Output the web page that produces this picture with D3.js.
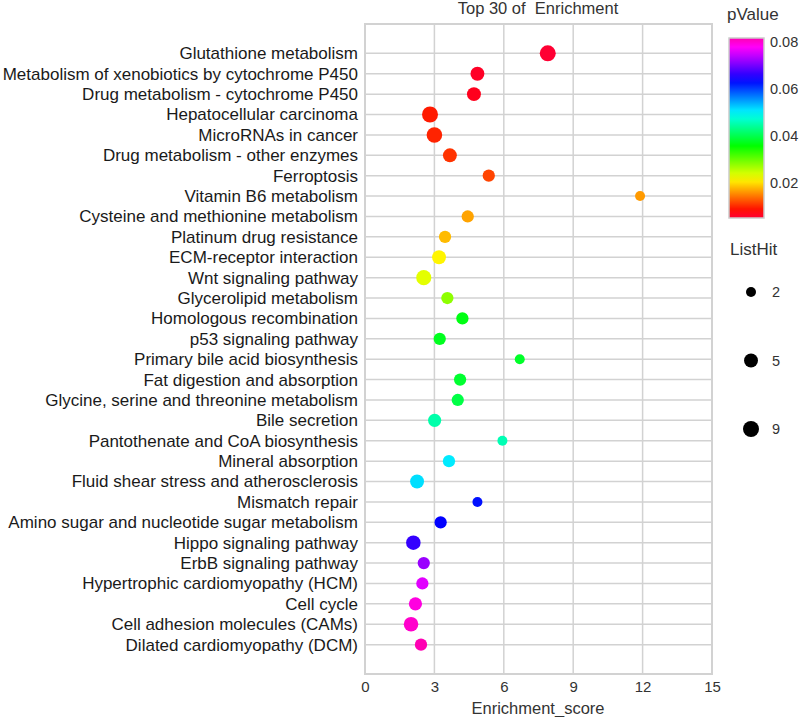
<!DOCTYPE html>
<html>
<head>
<meta charset="utf-8">
<script src="https://cdn.jsdelivr.net/npm/d3@7"></script>
<style>
html,body{margin:0;padding:0;background:#fff;}
text{font-family:"Liberation Sans",Arial,sans-serif;}
</style>
</head>
<body>
<svg id="chart" width="800" height="717"></svg>
<script>
const pathways = [
  "Glutathione metabolism",
  "Metabolism of xenobiotics by cytochrome P450",
  "Drug metabolism - cytochrome P450",
  "Hepatocellular carcinoma",
  "MicroRNAs in cancer",
  "Drug metabolism - other enzymes",
  "Ferroptosis",
  "Vitamin B6 metabolism",
  "Cysteine and methionine metabolism",
  "Platinum drug resistance",
  "ECM-receptor interaction",
  "Wnt signaling pathway",
  "Glycerolipid metabolism",
  "Homologous recombination",
  "p53 signaling pathway",
  "Primary bile acid biosynthesis",
  "Fat digestion and absorption",
  "Glycine, serine and threonine metabolism",
  "Bile secretion",
  "Pantothenate and CoA biosynthesis",
  "Mineral absorption",
  "Fluid shear stress and atherosclerosis",
  "Mismatch repair",
  "Amino sugar and nucleotide sugar metabolism",
  "Hippo signaling pathway",
  "ErbB signaling pathway",
  "Hypertrophic cardiomyopathy (HCM)",
  "Cell cycle",
  "Cell adhesion molecules (CAMs)",
  "Dilated cardiomyopathy (DCM)"
];
const enrichmentScore = [7.90, 4.86, 4.71, 2.81, 3.00, 3.67, 5.35, 11.89, 4.44, 3.46,
  3.20, 2.54, 3.56, 4.21, 3.23, 6.69, 4.11, 4.01, 3.01, 5.94,
  3.63, 2.25, 4.86, 3.27, 2.09, 2.54, 2.48, 2.18, 1.99, 2.42];
const pValue = [0.0050, 0.0057, 0.0062, 0.0092, 0.0097, 0.0106, 0.0115, 0.0162, 0.0167, 0.0180,
  0.0212, 0.0232, 0.0279, 0.0367, 0.0374, 0.0379, 0.0383, 0.0395, 0.0450, 0.0455,
  0.0507, 0.0514, 0.0627, 0.0636, 0.0664, 0.0720, 0.0759, 0.0792, 0.0803, 0.0817];
const listHit = [9, 5, 5, 9, 8, 5, 3, 2, 3, 3,
  5, 7, 3, 3, 3, 2, 3, 3, 4, 2,
  3, 5, 2, 3, 6, 3, 3, 4, 6, 3];
const xTicks = [0, 3, 6, 9, 12, 15];
const pTicks = [0.02, 0.04, 0.06, 0.08];
const sizeBreaks = [2, 5, 9];

(function () {
const data = pathways.map((name, i) => ({name, score: enrichmentScore[i], p: pValue[i], hit: listHit[i]}));

const svg = d3.select("#chart");
const pL = 365, pR = 712, pT = 24, pB = 674;
const grid = "#d2d2d2";
const textCol = "#333333";
const ff = "'Liberation Sans',Arial,sans-serif";

const x = d3.scaleLinear().domain([0, 15]).range([pL, pR]);
const y = d3.scalePoint().domain(pathways).range([pT, pB]).padding(1.44);

const pExt = d3.extent(pValue);
const hue = d3.scaleLinear().domain(pExt).range([-12, 318]);
const color = p => d3.hsl(hue(p), 1, 0.5).toString();
const radius = n => 5 + 3 * Math.sqrt((n - 2) / 7);

// grid lines
svg.append("g").selectAll("line").data(pathways).join("line")
  .attr("x1", pL).attr("x2", pR)
  .attr("y1", d => y(d)).attr("y2", d => y(d))
  .attr("stroke", grid).attr("stroke-width", 1.5);
svg.append("g").selectAll("line").data(xTicks).join("line")
  .attr("x1", d => x(d)).attr("x2", d => x(d))
  .attr("y1", pT).attr("y2", pB)
  .attr("stroke", grid).attr("stroke-width", 1.5);
svg.append("rect").attr("x", pL).attr("y", pT)
  .attr("width", pR - pL).attr("height", pB - pT)
  .attr("fill", "none").attr("stroke", grid).attr("stroke-width", 2);

// x axis
const xAxis = d3.axisBottom(x).tickValues(xTicks).tickSize(0).tickPadding(7);
const gx = svg.append("g").attr("transform", `translate(0,${pB})`).call(xAxis);
gx.select(".domain").remove();
gx.selectAll("text").attr("font-size", 15).attr("fill", textCol).style("font-family", ff);

// y axis
const yAxis = d3.axisLeft(y).tickSize(0).tickPadding(7);
const gy = svg.append("g").attr("transform", `translate(${pL},0)`).call(yAxis);
gy.select(".domain").remove();
gy.selectAll("text").attr("font-size", 17).attr("fill", "#1a1a1a").style("font-family", ff);

// points
svg.append("g").selectAll("circle").data(data).join("circle")
  .attr("cx", d => x(d.score)).attr("cy", d => y(d.name))
  .attr("r", d => radius(d.hit))
  .attr("fill", d => color(d.p));

// titles
svg.append("text").attr("x", 538).attr("y", 14).attr("text-anchor", "middle")
  .attr("font-size", 16.5).attr("fill", textCol).style("white-space", "pre")
  .text("Top 30 of  Enrichment");
svg.append("text").attr("x", 538).attr("y", 714).attr("text-anchor", "middle")
  .attr("font-size", 16.5).attr("fill", textCol).text("Enrichment_score");

// color legend
const barX = 729, barW = 35, barTop = 38, barBot = 218;
const pLeg = d3.scaleLinear().domain(pExt).range([barBot, barTop]);
const defs = svg.append("defs");
const grad = defs.append("linearGradient").attr("id", "pgrad")
  .attr("x1", 0).attr("y1", 1).attr("x2", 0).attr("y2", 0);
d3.range(0, 1.0001, 0.05).forEach(t => {
  const p = pExt[0] + t * (pExt[1] - pExt[0]);
  grad.append("stop").attr("offset", t).attr("stop-color", color(p));
});
svg.append("text").attr("x", 727).attr("y", 20).attr("font-size", 17).attr("fill", textCol).text("pValue");
svg.append("rect").attr("x", barX).attr("y", barTop).attr("width", barW).attr("height", barBot - barTop)
  .attr("fill", "url(#pgrad)").attr("stroke", "#cccccc").attr("stroke-width", 1.5);
const pAxis = d3.axisRight(pLeg).tickValues(pTicks).tickSize(0).tickPadding(6).tickFormat(d3.format(".2f"));
const gp = svg.append("g").attr("transform", `translate(${barX + barW},0)`).call(pAxis);
gp.select(".domain").remove();
gp.selectAll("text").attr("font-size", 14.5).attr("fill", textCol).style("font-family", ff);

// size legend
svg.append("text").attr("x", 730).attr("y", 255).attr("font-size", 17).attr("fill", textCol).text("ListHit");
const sizeY = d3.scalePoint().domain(sizeBreaks).range([292, 429]);
const gs = svg.append("g");
gs.selectAll("circle").data(sizeBreaks).join("circle")
  .attr("cx", 751).attr("cy", d => sizeY(d)).attr("r", d => radius(d)).attr("fill", "#000");
gs.selectAll("text").data(sizeBreaks).join("text")
  .attr("x", 772).attr("y", d => sizeY(d)).attr("dy", "0.35em")
  .attr("font-size", 14.5).attr("fill", textCol).text(d => d);
})();
</script>
</body>
</html>
